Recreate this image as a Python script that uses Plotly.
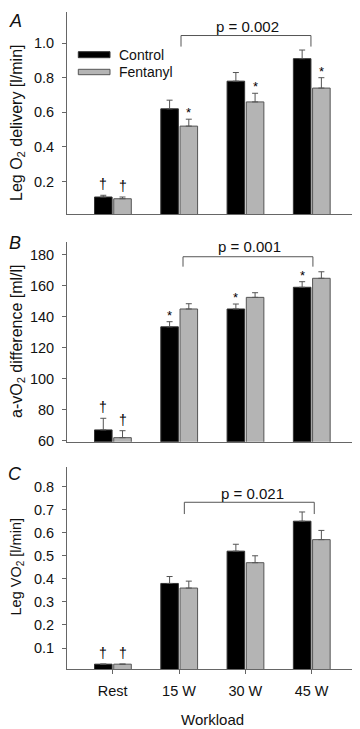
import plotly.graph_objects as go

categories = ["Rest", "15 W", "30 W", "45 W"]

# Panel A: Leg O2 delivery [l/min]
a_control = [0.11, 0.62, 0.78, 0.91]
a_control_err = [0.01, 0.05, 0.05, 0.05]
a_fentanyl = [0.10, 0.52, 0.66, 0.74]
a_fentanyl_err = [0.01, 0.04, 0.05, 0.06]
a_control_marks = ["†", "", "", ""]
a_fentanyl_marks = ["†", "*", "*", "*"]

# Panel B: a-vO2 difference [ml/l]
b_control = [67, 133.5, 145, 159]
b_control_err = [7.5, 3.3, 3.2, 3.6]
b_fentanyl = [62, 145, 152.5, 164.8]
b_fentanyl_err = [4.5, 3.4, 3.0, 4.2]
b_control_marks = ["†", "*", "*", "*"]
b_fentanyl_marks = ["†", "", "", ""]

# Panel C: Leg VO2 [l/min]
c_control = [0.03, 0.38, 0.52, 0.65]
c_control_err = [0.0, 0.03, 0.03, 0.04]
c_fentanyl = [0.03, 0.36, 0.47, 0.57]
c_fentanyl_err = [0.0, 0.03, 0.03, 0.04]
c_control_marks = ["†", "", "", ""]
c_fentanyl_marks = ["†", "", "", ""]

p_labels = ["p = 0.002", "p = 0.001", "p = 0.021"]

# the page body has an 8 px margin: the figure is drawn 8 px in from the top-left
PAGE_OFF = 8
W, H = 360 - PAGE_OFF, 729 - PAGE_OFF
FONT = "Liberation Sans, Arial, sans-serif"
AX = "#666666"
TXT = "#111111"

def px(x):
    return (x - PAGE_OFF) / W

def py(y):
    return 1 - (y - PAGE_OFF) / H

xdom = [px(67), px(358)]
ydoms = [[py(214.3), py(12)], [py(441.7), py(241.7)], [py(669), py(467)]]
yranges = [[0.01, 1.18], [59.4, 188.4], [0.009, 0.885]]
yticks = [[0.2, 0.4, 0.6, 0.8, 1.0], [60, 80, 100, 120, 140, 160, 180],
          [0.1, 0.2, 0.3, 0.4, 0.5, 0.6, 0.7, 0.8]]
yfmt = [".1f", "d", ".1f"]

BW = 0.265
OFF_C = -0.275
OFF_F = 0.015
xs = list(range(len(categories)))

panels = [
    (a_control, a_control_err, a_fentanyl, a_fentanyl_err, a_control_marks, a_fentanyl_marks),
    (b_control, b_control_err, b_fentanyl, b_fentanyl_err, b_control_marks, b_fentanyl_marks),
    (c_control, c_control_err, c_fentanyl, c_fentanyl_err, c_control_marks, c_fentanyl_marks),
]

fig = go.Figure()
annotations = []
shapes = []

for i, (cv, ce, fv, fe, cm, fm) in enumerate(panels):
    n = "" if i == 0 else str(i + 1)
    xref, yref = "x" + n, "y" + n
    fig.add_trace(go.Bar(
        x=xs, y=cv, width=BW, offset=OFF_C, name="Control",
        marker=dict(color="#000000", line=dict(color="#333333", width=1)),
        error_y=dict(type="data", array=ce, arrayminus=[0] * len(ce), symmetric=False,
                     color="#555555", thickness=1, width=3),
        xaxis=xref, yaxis=yref, showlegend=False))
    fig.add_trace(go.Bar(
        x=xs, y=fv, width=BW, offset=OFF_F, name="Fentanyl",
        marker=dict(color="#b4b4b4", line=dict(color="#555555", width=1)),
        error_y=dict(type="data", array=fe, arrayminus=[0] * len(fe), symmetric=False,
                     color="#555555", thickness=1, width=3),
        xaxis=xref, yaxis=yref, showlegend=False))
    for vals, errs, marks, off in ((cv, ce, cm, OFF_C), (fv, fe, fm, OFF_F)):
        for k, m in enumerate(marks):
            if not m:
                continue
            annotations.append(dict(
                x=k + off + BW / 2, y=vals[k] + errs[k], xref=xref, yref=yref,
                text=m, showarrow=False, xanchor="center", yanchor="bottom",
                yshift=(-3 if m == "*" else 1),
                font=dict(family=FONT, size=(13 if m == "*" else 14), color="#000000")))

brackets = [
    (1.03, 2.99, 0.98, 1.044, 2.04, 1.096),
    (1.06, 3.02, 172.3, 178.7, 2.06, 185.6),
    (1.08, 3.04, 0.681, 0.732, 2.11, 0.768),
]
for i, (x0, x1, yb, yt, xl, yl) in enumerate(brackets):
    n = "" if i == 0 else str(i + 1)
    shapes.append(dict(type="path", xref="x" + n, yref="y" + n,
                       path=f"M {x0},{yb} L {x0},{yt} L {x1},{yt} L {x1},{yb}",
                       line=dict(color="#555555", width=1)))
    annotations.append(dict(x=xl, y=yl, xref="x" + n, yref="y" + n, text=p_labels[i],
                            showarrow=False, xanchor="center", yanchor="middle",
                            font=dict(family=FONT, size=15, color=TXT)))

# panel letters (A is top-anchored so it stays inside the figure)
annotations.append(dict(x=px(15), y=py(8.5), xref="paper", yref="paper", text="<i>A</i>",
                        showarrow=False, xanchor="center", yanchor="top",
                        font=dict(family=FONT, size=18, color=TXT)))
for letter, yc in (("B", 243), ("C", 474)):
    annotations.append(dict(x=px(15), y=py(yc), xref="paper", yref="paper", text=f"<i>{letter}</i>",
                            showarrow=False, xanchor="center", yanchor="middle",
                            font=dict(family=FONT, size=18, color=TXT)))

ytitles = [("Leg O<sub>2</sub> delivery [l/min]", 123, 17, 16),
           ("a-vO<sub>2</sub> difference [ml/l]", 341, 17, 16),
           ("Leg VO<sub>2</sub> [l/min]", 566.5, 16, 14.5)]
for t, yc, xc, fs in ytitles:
    annotations.append(dict(x=px(xc), y=py(yc), xref="paper", yref="paper", text=t, textangle=-90,
                            showarrow=False, xanchor="center", yanchor="middle",
                            font=dict(family=FONT, size=fs, color=TXT)))

annotations.append(dict(x=px(212.5), y=py(719), xref="paper", yref="paper", text="Workload",
                        showarrow=False, xanchor="center", yanchor="middle",
                        font=dict(family=FONT, size=15, color=TXT)))

shapes.append(dict(type="rect", xref="paper", yref="paper", x0=px(78.3), x1=px(110), y0=py(57.7), y1=py(51.7),
                   fillcolor="#000000", line=dict(color="#333333", width=1)))
shapes.append(dict(type="rect", xref="paper", yref="paper", x0=px(78.3), x1=px(110), y0=py(74.7), y1=py(69.3),
                   fillcolor="#b4b4b4", line=dict(color="#555555", width=1)))
annotations.append(dict(x=px(117), y=py(54.7), xref="paper", yref="paper", text="Control",
                        xanchor="left", yanchor="middle",
                        showarrow=False, font=dict(family=FONT, size=14, color=TXT)))
annotations.append(dict(x=px(117), y=py(72), xref="paper", yref="paper", text="Fentanyl",
                        xanchor="left", yanchor="middle",
                        showarrow=False, font=dict(family=FONT, size=14, color=TXT)))

layout = dict(
    template="none",
    width=W, height=H, autosize=False,
    margin=dict(l=0, r=0, t=0, b=0, pad=0),
    paper_bgcolor="white", plot_bgcolor="white",
    font=dict(family=FONT, size=14, color=TXT),
    barmode="overlay", showlegend=False,
    annotations=annotations, shapes=shapes,
)
for i in range(3):
    n = "" if i == 0 else str(i + 1)
    xa = dict(
        domain=xdom, range=[-0.69, 3.70], anchor="y" + n, automargin=False,
        tickvals=xs, showline=True, linecolor=AX, linewidth=1, showgrid=False, zeroline=False,
        fixedrange=True)
    if i == 2:
        xa.update(ticktext=categories, showticklabels=True, ticks="outside", ticklen=4,
                  tickcolor=AX, tickfont=dict(size=14.5), ticklabelstandoff=5)
    else:
        xa.update(showticklabels=False, ticks="")
    layout["xaxis" + n] = xa
    layout["yaxis" + n] = dict(
        domain=ydoms[i], range=yranges[i], anchor="x" + n, automargin=False,
        tickvals=yticks[i], tickformat=yfmt[i], ticks="outside", ticklen=4, tickcolor=AX,
        showline=True, linecolor=AX, linewidth=1, showgrid=False, zeroline=False,
        tickfont=dict(size=14.5), ticklabelstandoff=5, fixedrange=True)

fig.update_layout(**layout)
fig.write_html("out.html")
